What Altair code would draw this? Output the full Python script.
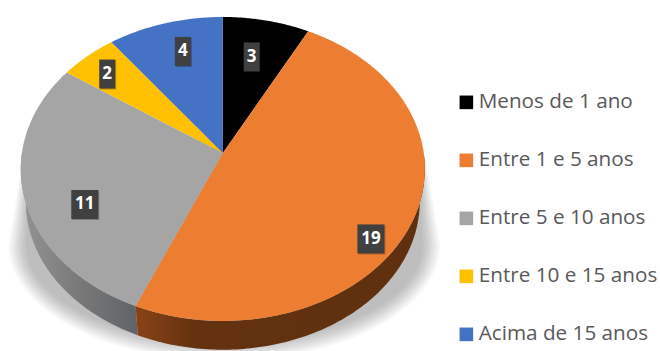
import numpy as np
import pandas as pd
import altair as alt

# Tenure bands and how many people fall in each
categories = ["Menos de 1 ano", "Entre 1 e 5 anos", "Entre 5 e 10 anos", "Entre 10 e 15 anos", "Acima de 15 anos"]
values = [3, 19, 11, 2, 4]
colors = ["#000000", "#ed7d31", "#a5a5a5", "#ffc000", "#4472c4"]

# Label placement on the disc: radius (0-1) and clock angle in degrees
label_radius = [0.702, 0.880, 0.741, 0.8245, 0.758]
label_angle = [12.7, 127.8, 243.5, 312.4, 343.6]

WIDTH, HEIGHT = 660, 351
TILT = 0.105                # perspective strength of the tilted disc
AX, AY = 200.9, 150.3       # disc half-axes in pixels
CX, CY = 222.8, 153.0       # where the disc centre lands in the view


def project(radius, deg, shrink=1.0, drop=0.0):
    """Clockwise-from-north polar coordinates to the tilted disc plane."""
    t = np.radians(deg)
    u, v = radius * np.sin(t), radius * np.cos(t)
    s = 1 / (1 + TILT * v)
    return u * s * shrink, v * s * shrink - drop


cum = np.cumsum([0] + values) / sum(values) * 360

# Top face: one closed wedge per category
rows = []
for name, a0, a1 in zip(categories, cum[:-1], cum[1:]):
    ang = np.linspace(a0, a1, max(int(a1 - a0), 2) * 2)
    xs, ys = project(1.0, ang)
    px = np.concatenate([[0.0], xs])
    py = np.concatenate([[0.0], ys])
    rows += [dict(cat=name, x=a, y=b, i=i) for i, (a, b) in enumerate(zip(px, py))]
top_df = pd.DataFrame(rows)


# Rim wall between the top edge and the smaller, lower bottom edge
def wall(a0, a1):
    ang = np.linspace(a0, a1, 120)
    x0, y0 = project(1.0, ang)
    x1, y1 = project(1.0, ang[::-1], shrink=0.975, drop=33 / AY)
    px, py = np.concatenate([x0, x1]), np.concatenate([y0, y1])
    return pd.DataFrame(dict(x=px, y=py, i=np.arange(len(px))))


orange_wall = wall(90, cum[2])
gray_wall = wall(cum[2], 270)


# Drop shadow on the floor: nested translucent outlines build up a soft edge
def shadow_outline(inset):
    half = 216 - inset
    deep = 116 - inset
    t = np.radians(np.linspace(90, 270, 90))
    px = np.concatenate([[-198 + inset * 0.2], half * np.sin(t)[::-1], [198 - inset * 0.2]]) + 1.5
    py = np.concatenate([[-15.0], 92 - deep * np.cos(t)[::-1], [-15.0]])
    return pd.DataFrame(dict(x=px / AX, y=-py / AY, i=np.arange(len(px)), layer=int(inset * 10)))


shadow_df = pd.concat([shadow_outline(d) for d in np.linspace(0, 18, 14)], ignore_index=True)

# Value labels
lx, ly = project(np.array(label_radius), np.array(label_angle))
label_df = pd.DataFrame(dict(cat=categories, value=values, x=lx, y=ly))
one_digit = label_df[label_df["value"] < 10]
two_digit = label_df[label_df["value"] >= 10]

x_enc = alt.X("x:Q", axis=None, scale=alt.Scale(domain=[-CX / AX, (WIDTH - CX) / AX], nice=False, zero=False))
y_enc = alt.Y("y:Q", axis=None, scale=alt.Scale(domain=[(CY - HEIGHT) / AY, CY / AY], nice=False, zero=False))


def polygon(df, fill):
    return alt.Chart(df).mark_line(
        interpolate="linear-closed", fill=fill, strokeWidth=0, stroke="transparent"
    ).encode(x=x_enc, y=y_enc, order="i:Q")


def h_gradient(stops):
    return {
        "gradient": "linear", "x1": 0, "y1": 0, "x2": 1, "y2": 0,
        "stops": [{"offset": o, "color": c} for o, c in stops],
    }


shadow = alt.Chart(shadow_df).mark_line(
    interpolate="linear-closed", fill="#1c2c3c", fillOpacity=0.022, strokeWidth=0, stroke="transparent"
).encode(x=x_enc, y=y_enc, order="i:Q", detail="layer:N")

wall_orange = polygon(orange_wall, h_gradient([(0, "#8a4216"), (0.2, "#63330f"), (1, "#5f300f")]))
wall_gray = polygon(gray_wall, h_gradient([(0, "#949494"), (0.55, "#767676"), (1, "#5f6468")]))

faces = alt.Chart(top_df).mark_line(
    interpolate="linear-closed", filled=True, strokeWidth=0, stroke="transparent"
).encode(
    x=x_enc,
    y=y_enc,
    order="i:Q",
    fill=alt.Fill(
        "cat:N",
        scale=alt.Scale(domain=categories, range=colors),
        legend=alt.Legend(
            title=None, orient="none", legendX=456, legendY=92,
            symbolType="square", symbolSize=185, symbolStrokeWidth=0,
            labelFont="Open Sans", labelFontSize=20.7, labelColor="#595959",
            labelOffset=2, rowPadding=36, padding=0, labelLimit=220,
        ),
    ),
)


def boxes(df, w):
    base = alt.Chart(df).encode(x=x_enc, y=y_enc)
    halo = base.mark_rect(width=w, height=29, color="#000000", opacity=0.25, xOffset=1, yOffset=1)
    box = base.mark_rect(width=w, height=29, color="#404040")
    return halo + box


labels = alt.Chart(label_df).mark_text(
    font="Open Sans", fontSize=17, fontWeight="bold", color="#ffffff"
).encode(x=x_enc, y=y_enc, text="value:Q")

chart = alt.layer(
    shadow, wall_gray, wall_orange, faces,
    boxes(one_digit, 16), boxes(two_digit, 27), labels,
).properties(
    width=WIDTH, height=HEIGHT, padding=0, background="#ffffff",
    autosize=alt.AutoSizeParams(type="none"),
).configure_view(stroke=None)

chart.save("out.html", embed_options={"renderer": "svg", "actions": False})
